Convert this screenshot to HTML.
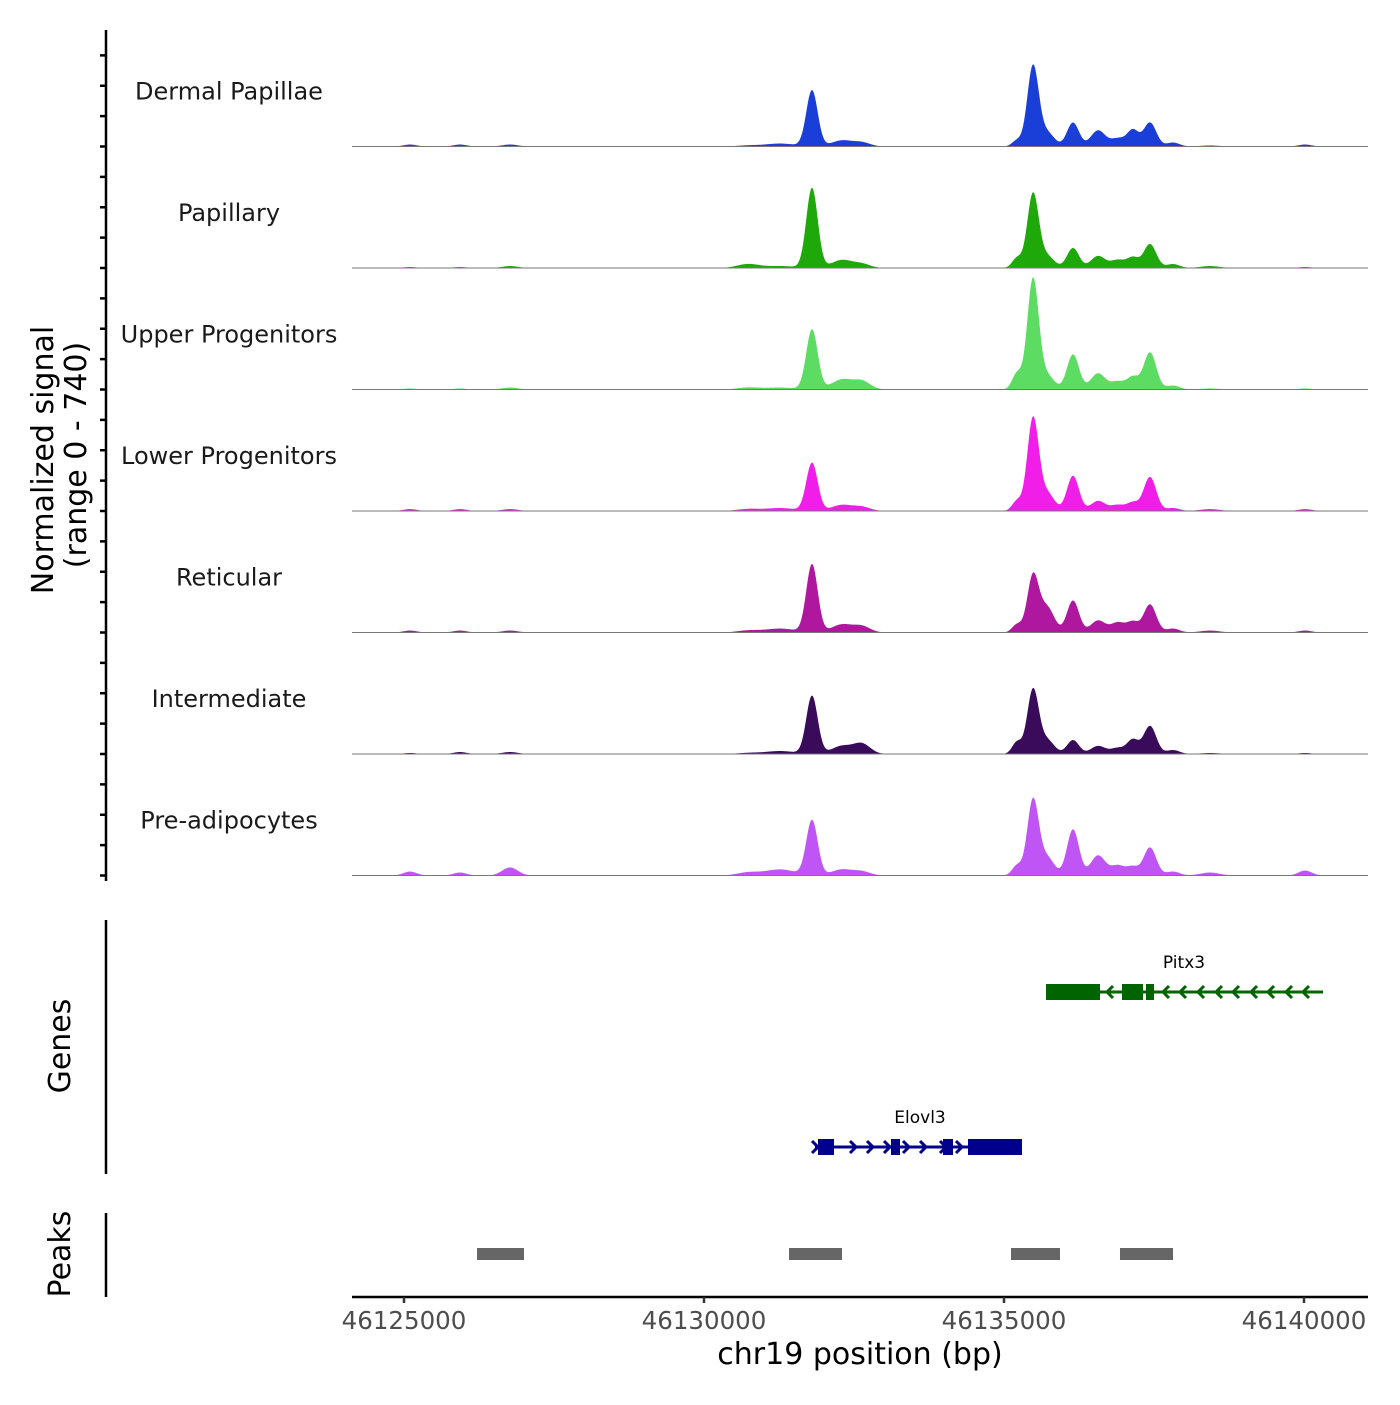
<!DOCTYPE html>
<html><head><meta charset="utf-8"><style>
html,body{margin:0;padding:0;background:#fff;}
svg text{font-family:"DejaVu Sans","Liberation Sans",sans-serif;}
</style></head><body>
<svg id="chart" width="1400" height="1400" viewBox="0 0 1400 1400" xmlns="http://www.w3.org/2000/svg">
<g id="tracks"></g>
<g id="axes"></g>
<g id="genes"></g>
<g id="peaks"></g>
</svg>
<script>
const trackNames = ["Dermal Papillae","Papillary","Upper Progenitors","Lower Progenitors","Reticular","Intermediate","Pre-adipocytes"];
const trackColors = ["#1a3fd8","#1fa80a","#5cdc62","#f01ee8","#b0179f","#3a0b5a","#c055f5"];
const peakPos = [46125100,46125933,46126767,46130733,46131267,46131800,46132300,46132633,46135217,46135483,46135717,46136150,46136567,46136900,46137150,46137433,46137817,46138433,46140017];
const peakSigma = [110,110,130,180,250,95,170,140,80,95,120,100,120,120,95,105,110,160,110];
const sigDP  = [12,12,12,6,18,342,37,24,37,488,85,146,98,49,98,146,24,6,12];
const sigPap = [6,6,12,24,12,488,49,24,61,451,73,122,73,49,61,146,24,12,6];
const sigUP  = [6,6,12,12,12,366,61,49,98,671,85,214,98,49,73,226,24,6,6];
const sigLP  = [12,12,12,12,18,293,37,24,61,561,110,214,61,37,49,207,18,12,12];
const sigRet = [12,12,12,12,24,415,49,37,49,342,153,195,73,61,61,171,24,12,12];
const sigInt = [6,12,12,6,18,354,49,61,73,390,85,85,49,37,85,171,24,6,6];
const sigPre = [24,18,49,18,37,336,37,24,61,458,110,281,122,61,49,171,24,18,30];
const signals = [sigDP,sigPap,sigUP,sigLP,sigRet,sigInt,sigPre];
const xTicks = [46125000,46130000,46135000,46140000];
const peakStarts = [46126217,46131417,46135117,46136933];
const peakEnds = [46127000,46132300,46135933,46137817];

const NS="http://www.w3.org/2000/svg";
function mk(tag,attrs,parent){const e=document.createElementNS(NS,tag);for(const k in attrs)e.setAttribute(k,attrs[k]);parent.appendChild(e);return e;}
const X0=352,X1=1368;
function xs(bp){return 404+(bp-46125000)*0.06;}
function bpAt(x){return 46125000+(x-404)/0.06;}
const trackH=121.5, firstBase=146.5, maxV=740;
const gT=document.getElementById('tracks');
signals.forEach((sig,t)=>{
  const base=firstBase+t*trackH;
  const g=mk('g',{},gT);
  
  
  let d='M'+X0+','+base;
  for(let x=X0;x<=X1;x+=1){
    const bp=bpAt(x);let v=0;
    for(let i=0;i<peakPos.length;i++){const z=(bp-peakPos[i])/peakSigma[i];v+=sig[i]*Math.exp(-0.5*z*z);}
    if(v>maxV)v=maxV;
    d+=' L'+x+','+(base-v/maxV*trackH).toFixed(2);
  }
  d+=' L'+X1+','+base+' Z';
  const p=mk('path',{d:d,fill:trackColors[t]},g);
  
  
  const l=mk('line',{x1:X0,x2:X1,y1:base,y2:base,stroke:'#777','stroke-width':1},g);
  
  
  const tx=mk('text',{x:229,y:base-47,'text-anchor':'middle','font-size':24,fill:'#1a1a1a'},g);
  tx.textContent=trackNames[t];
  
  
});
const gA=document.getElementById('axes');
mk('line',{x1:106,x2:106,y1:30,y2:881,stroke:'#000','stroke-width':2.5},gA);
for(let t=0;t<7;t++){for(let k=0;k<4;k++){const y=firstBase+t*trackH-k*trackH/4;
  const tk=mk('line',{x1:100,x2:106,y1:y,y2:y,stroke:'#000','stroke-width':2.5},gA);
  
  }}
let yt=mk('text',{x:0,y:0,'text-anchor':'middle','font-size':30,fill:'#000',transform:'translate(53,460) rotate(-90)'},gA);
yt.textContent='Normalized signal';


yt=mk('text',{x:0,y:0,'text-anchor':'middle','font-size':30,fill:'#000',transform:'translate(86,455) rotate(-90)'},gA);
yt.textContent='(range 0 - 740)';


mk('line',{x1:106,x2:106,y1:920,y2:1174,stroke:'#000','stroke-width':2.5},gA);
yt=mk('text',{x:0,y:0,'text-anchor':'middle','font-size':30,fill:'#000',transform:'translate(70,1046) rotate(-90)'},gA);
yt.textContent='Genes';


mk('line',{x1:106,x2:106,y1:1213,y2:1297,stroke:'#000','stroke-width':2.5},gA);
yt=mk('text',{x:0,y:0,'text-anchor':'middle','font-size':30,fill:'#000',transform:'translate(70,1254) rotate(-90)'},gA);
yt.textContent='Peaks';


mk('line',{x1:X0,x2:X1,y1:1297,y2:1297,stroke:'#000','stroke-width':2.5},gA);
xTicks.forEach(v=>{
  const tk=mk('line',{x1:xs(v),x2:xs(v),y1:1297,y2:1303,stroke:'#333','stroke-width':2.5},gA);
  
  
  const lb=mk('text',{x:xs(v),y:1329,'text-anchor':'middle','font-size':24.5,fill:'#4d4d4d'},gA);
  lb.textContent=String(v);
  
  
});
const xt=mk('text',{x:860,y:1364,'text-anchor':'middle','font-size':30,fill:'#000'},gA);
xt.textContent='chr19 position (bp)';



const gG=document.getElementById('genes');
function gene(name,color,y,x1,x2,exons,dir,arrows,labelX){
  const g=mk('g',{},gG);
  
  
  mk('line',{x1:x1,x2:x2,y1:y,y2:y,stroke:color,'stroke-width':3},g);
  arrows.forEach(ax=>{const s=dir*6;mk('polyline',{points:(ax-s)+','+(y-6)+' '+ax+','+y+' '+(ax-s)+','+(y+6),fill:'none',stroke:color,'stroke-width':3},g);});
  exons.forEach(e=>mk('rect',{x:e[0],y:y-8,width:e[1]-e[0],height:16,fill:color},g));
  const t=mk('text',{x:labelX,y:y-24,'text-anchor':'middle','font-size':17,fill:'#000'},g);
  t.textContent=name;
  
  
}
gene('Pitx3','#006400',992,1046,1323,[[1046,1100],[1122,1143],[1146,1154]],-1,[1107,1163,1180,1198,1216,1233,1251,1268,1286,1303],1184);
gene('Elovl3','#00008b',1147,815,1022,[[818,834],[891,900],[943,953],[968,1022]],1,[818,856,873,890,909,926,946,962],920);

const gP=document.getElementById('peaks');
peakStarts.forEach((s,i)=>{
  const r=mk('rect',{x:xs(s),y:1248,width:xs(peakEnds[i])-xs(s),height:12,fill:'#666'},gP);
  
  
});
</script>
</body></html>
